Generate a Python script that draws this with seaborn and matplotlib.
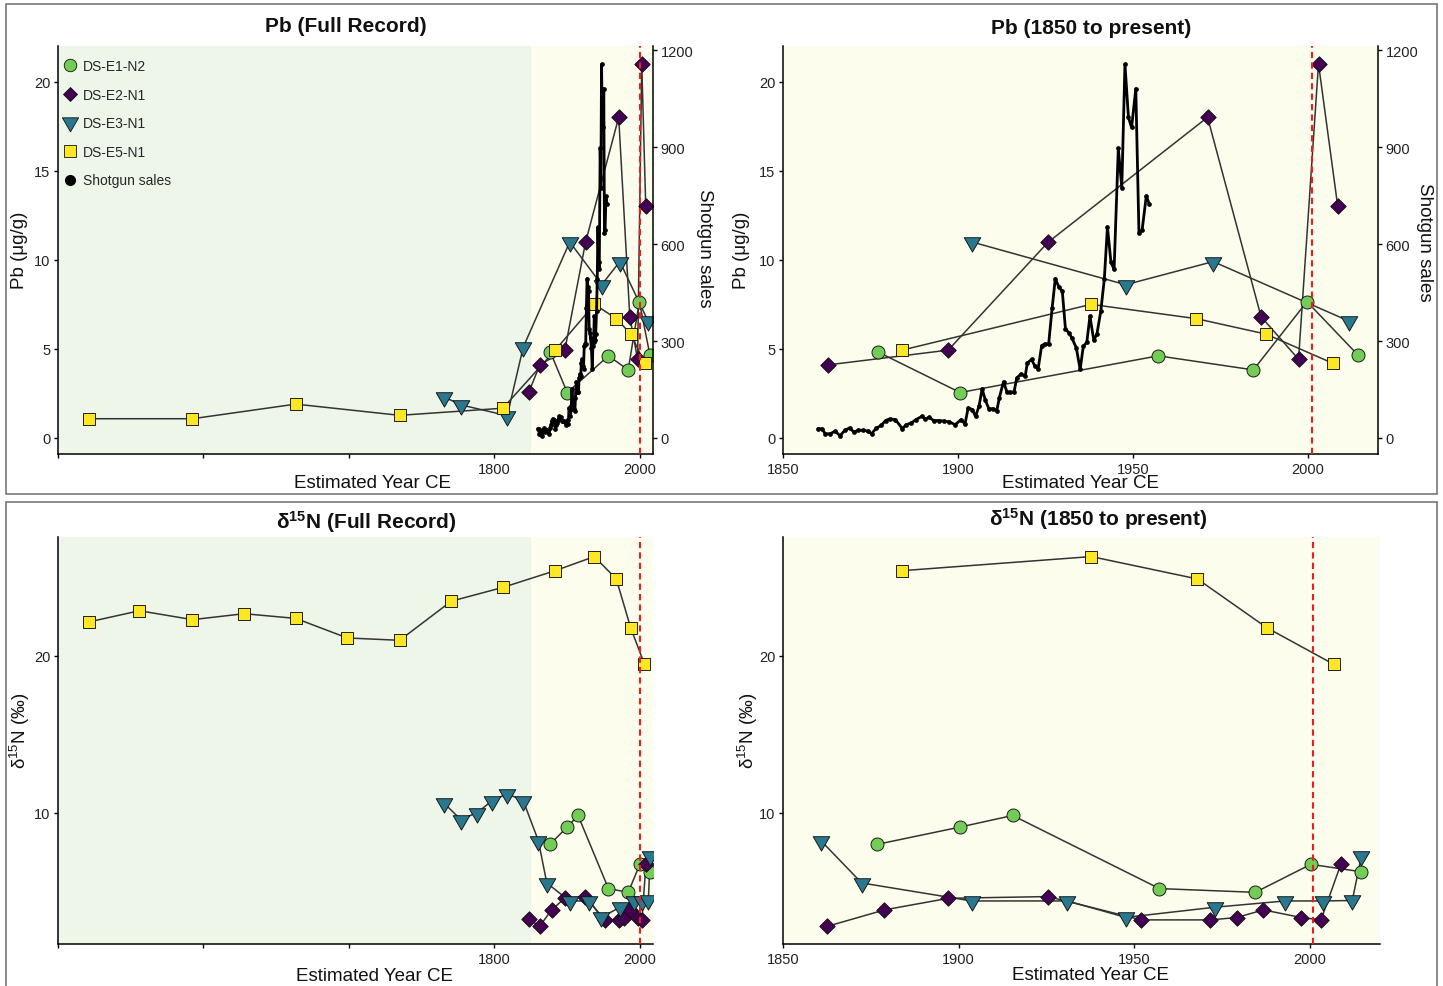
import matplotlib
matplotlib.use('Agg')
import matplotlib.pyplot as plt
from matplotlib.lines import Line2D
from matplotlib.patches import Rectangle
from matplotlib.path import Path
import seaborn as sns

sns.set_theme(style='white')
plt.rcParams['font.family'] = ['Liberation Sans', 'DejaVu Sans']
plt.rcParams['mathtext.fontset'] = 'custom'
plt.rcParams['mathtext.rm'] = 'Liberation Sans'
plt.rcParams['mathtext.it'] = 'Liberation Sans:italic'
plt.rcParams['mathtext.bf'] = 'Liberation Sans:bold'

# ---- data ----
sample_names = ['DS-E1-N2', 'DS-E2-N1', 'DS-E3-N1', 'DS-E5-N1']

# Pb (ug/g)
pb_e1_year = [1877.0, 1900.6, 1957.2, 1984.4, 1999.7, 2014.3]
pb_e1 = [4.84, 2.55, 4.61, 3.82, 7.65, 4.65]
pb_e2_year = [1848.0, 1862.8, 1897.2, 1925.7, 1971.3, 1986.6, 1997.3, 2003.0, 2008.5]
pb_e2 = [2.6, 4.1, 4.93, 10.98, 18.0, 6.8, 4.42, 21.0, 13.0]
pb_e3_year = [1731.0, 1755.0, 1818.0, 1840.0, 1904.0, 1947.9, 1972.9, 2011.8]
pb_e3 = [2.3, 1.85, 1.25, 5.1, 11.0, 8.6, 9.9, 6.55]
pb_e5_year = [1242.0, 1385.0, 1527.0, 1670.0, 1812.0, 1884.0, 1938.0, 1968.0, 1988.0, 2007.0]
pb_e5 = [1.08, 1.08, 1.9, 1.27, 1.67, 4.93, 7.5, 6.7, 5.83, 4.2]

# d15N (permil)
dn_e1_year = [1876.7, 1900.4, 1915.4, 1957.2, 1984.5, 2000.3, 2014.5]
dn_e1 = [7.96, 9.07, 9.81, 5.14, 4.9, 6.69, 6.22]
dn_e2_year = [1848.0, 1862.5, 1878.9, 1897.1, 1925.5, 1952.0, 1971.7, 1979.2,
              1986.8, 1997.6, 2003.2, 2008.9]
dn_e2 = [3.2, 2.72, 3.78, 4.52, 4.63, 3.14, 3.14, 3.29, 3.78, 3.29, 3.14, 6.73]
dn_e3_year = [1731.0, 1754.0, 1777.0, 1797.0, 1818.0, 1840.0, 1860.8, 1872.4,
              1903.7, 1931.0, 1947.6, 1973.0, 1993.0, 2003.9, 2012.1, 2014.7]
dn_e3 = [10.6, 9.55, 10.0, 10.75, 11.2, 10.75, 8.2, 5.5, 4.35, 4.35, 3.3, 3.95,
         4.35, 4.35, 4.38, 7.2]
dn_e5_year = [1242.0, 1312.0, 1385.0, 1456.0, 1527.0, 1598.0, 1670.0, 1741.0,
              1812.0, 1884.0, 1937.8, 1968.0, 1987.8, 2006.8]
dn_e5 = [22.17, 22.89, 22.32, 22.7, 22.4, 21.15, 21.0, 23.5, 24.38, 25.45,
         26.35, 24.92, 21.8, 19.47]

# shotgun sales
sales_year = [1860.0, 1861.1, 1862.1, 1863.5, 1864.9, 1866.3, 1867.7, 1869.0, 1870.3,
              1871.5, 1872.9, 1874.3, 1875.3, 1876.7, 1878.1, 1879.3, 1880.5, 1882.1,
              1884.1, 1885.2, 1886.6, 1888.0, 1889.7, 1890.7, 1891.8, 1893.0, 1894.6,
              1896.0, 1897.5, 1899.2, 1900.9, 1902.0, 1902.9, 1904.1, 1905.0, 1906.0,
              1906.9, 1907.8, 1908.8, 1910.0, 1911.1, 1911.8, 1913.0, 1914.0, 1914.9,
              1916.0, 1916.8, 1918.0, 1919.2, 1919.8, 1921.0, 1922.0, 1922.9, 1923.9,
              1924.8, 1925.9, 1926.9, 1927.8, 1928.8, 1929.8, 1930.7, 1931.7, 1932.6,
              1933.8, 1934.9, 1935.8, 1936.8, 1937.7, 1938.8, 1939.7, 1940.8, 1941.8,
              1942.7, 1943.7, 1944.6, 1945.8, 1946.8, 1947.7, 1948.7, 1949.6, 1950.8,
              1951.7, 1952.6, 1953.8, 1954.7]
sales = [29, 28, 13, 13, 21, 7, 24, 31, 18, 24, 24, 21, 13, 31, 39, 54, 59, 57, 29,
         41, 46, 57, 67, 59, 64, 54, 54, 52, 50, 41, 57, 43, 93, 88, 67, 98, 152, 117,
         91, 90, 85, 124, 174, 142, 142, 142, 186, 198, 191, 232, 243, 222, 214, 286,
         291, 291, 403, 493, 468, 454, 338, 325, 308, 279, 212, 284, 296, 377, 302,
         322, 393, 491, 653, 544, 522, 896, 775, 1157, 992, 961, 1081, 635, 643, 749,
         723]

pb_ticks = [0, 5, 10, 15, 20]
sales_ticks = [0, 300, 600, 900, 1200]
dn_ticks = [10, 20]
full_ticks = [1200, 1400, 1600, 1800, 2000]
full_tick_labels = ['', '', '', '1800', '2000']
recent_ticks = [1850, 1900, 1950, 2000]

# ---- styling ----
GREEN = '#72CC55'
PURPLE = '#440154'
TEAL = '#2A788E'
YELLOW = '#FDE725'
BG_OLD = '#EEF6EA'
BG_NEW = '#FDFDEE'
LINE_C = '#333333'
RED = '#EE1C1C'

TRI = Path([(-1, 0.577), (1, 0.577), (0, -1.155), (-1, 0.577)], [1, 2, 2, 79])
MARKERS = {'DS-E1-N2': ('o', 88, GREEN), 'DS-E2-N1': ('D', 62, PURPLE),
           'DS-E3-N1': (TRI, 190, TEAL), 'DS-E5-N1': ('s', 66, YELLOW)}

PB_LIM = (-0.9, 22.0)
SALES_PER_PB = 1200 / 21.76
DN_LIM = (1.6, 27.6)
FULL_LIM = (1200, 2018.5)
RECENT_LIM = (1850, 2020)
CUT_YEAR = 1850
RED_YEAR = 2001

W, H = 1443, 987
fig = plt.figure(figsize=(W / 100, H / 100), dpi=100)


def px_axes(x0, y0, x1, y1):
    return fig.add_axes([x0 / W, 1 - y1 / H, (x1 - x0) / W, (y1 - y0) / H])


def draw_samples(ax, series, xmin):
    for name, (yrs, vals) in zip(sample_names, series):
        pts = [(x, v) for x, v in zip(yrs, vals) if x >= xmin]
        xs = [p[0] for p in pts]
        vs = [p[1] for p in pts]
        marker, size, fill = MARKERS[name]
        sns.lineplot(x=xs, y=vs, color=LINE_C, lw=1.1, sort=False,
                     estimator=None, ax=ax, zorder=2, legend=False)
        sns.scatterplot(x=xs, y=vs, marker=marker, s=size, color=fill,
                        edgecolor='#111111', linewidth=0.65, ax=ax, zorder=3,
                        legend=False)


def style_axes(ax, xlim, ylim, yticks):
    ax.set_xlim(*xlim)
    ax.set_ylim(*ylim)
    ax.set_yticks(yticks)
    for s in ['top', 'right']:
        ax.spines[s].set_visible(False)
    for s in ['left', 'bottom']:
        ax.spines[s].set_color('black')
        ax.spines[s].set_linewidth(1.1)
    ax.tick_params(axis='both', bottom=True, left=True, length=3, width=1,
                   color='black', labelsize=10.5, pad=2.5, labelcolor='#222222')
    ax.set_xlabel('')
    ax.set_ylabel('')


def background(ax, xlim, split):
    if split:
        ax.axvspan(xlim[0], CUT_YEAR, color=BG_OLD, lw=0, zorder=0)
    ax.axvspan(CUT_YEAR, xlim[1], color=BG_NEW, lw=0, zorder=0)


def sales_axis(ax, ylim):
    ax2 = ax.twinx()
    sns.lineplot(x=sales_year, y=sales, color='black', lw=2.0, sort=False,
                 estimator=None, marker='o', markersize=3.4, markeredgewidth=0,
                 ax=ax2, legend=False, zorder=4)
    ax2.set_ylim(ylim[0] * SALES_PER_PB, ylim[1] * SALES_PER_PB)
    ax2.set_yticks(sales_ticks)
    for s in ['top', 'left', 'bottom']:
        ax2.spines[s].set_visible(False)
    ax2.spines['right'].set_color('black')
    ax2.spines['right'].set_linewidth(1.1)
    ax2.tick_params(axis='y', right=True, length=3, width=1, color='black',
                    labelsize=10.5, pad=2.5, labelcolor='#222222')
    ax2.set_ylabel('')
    return ax2


pb_series = [(pb_e1_year, pb_e1), (pb_e2_year, pb_e2), (pb_e3_year, pb_e3), (pb_e5_year, pb_e5)]
dn_series = [(dn_e1_year, dn_e1), (dn_e2_year, dn_e2), (dn_e3_year, dn_e3), (dn_e5_year, dn_e5)]

# ---- Pb full record ----
ax = px_axes(58, 47, 653, 455)
background(ax, FULL_LIM, True)
draw_samples(ax, pb_series, 0)
style_axes(ax, FULL_LIM, PB_LIM, pb_ticks)
ax.set_xticks(full_ticks)
ax.set_xticklabels(full_tick_labels)
ax2 = sales_axis(ax, PB_LIM)
ax2.axvline(RED_YEAR, color=RED, ls=(0, (3, 2)), lw=1.5, zorder=6)

handles = [Line2D([], [], ls='none', marker='o', ms=9.0, mfc=GREEN, mec='#111', mew=0.6),
           Line2D([], [], ls='none', marker='D', ms=7.5, mfc=PURPLE, mec='#111', mew=0.6),
           Line2D([], [], ls='none', marker=TRI, ms=13.5, mfc=TEAL, mec='#111', mew=0.6),
           Line2D([], [], ls='none', marker='s', ms=8.0, mfc=YELLOW, mec='#111', mew=0.6),
           Line2D([], [], ls='none', marker='o', ms=8.0, mfc='black', mec='black', mew=0)]
ax2.legend(handles, sample_names + ['Shotgun sales'], loc='upper left',
           bbox_to_anchor=(0.008, 0.968), frameon=False, fontsize=10,
           handlelength=1.0, handletextpad=0.45, labelspacing=1.05,
           borderaxespad=0, borderpad=0)

# ---- Pb 1850 to present ----
ax = px_axes(783, 47, 1378, 455)
background(ax, RECENT_LIM, False)
draw_samples(ax, pb_series, CUT_YEAR)
style_axes(ax, RECENT_LIM, PB_LIM, pb_ticks)
ax.set_xticks(recent_ticks)
ax2 = sales_axis(ax, PB_LIM)
ax2.axvline(RED_YEAR, color=RED, ls=(0, (3, 2)), lw=1.5, zorder=6)

# ---- d15N full record ----
ax = px_axes(58, 538, 653, 945)
background(ax, FULL_LIM, True)
draw_samples(ax, dn_series, 0)
style_axes(ax, FULL_LIM, DN_LIM, dn_ticks)
ax.set_xticks(full_ticks)
ax.set_xticklabels(full_tick_labels)
ax.axvline(RED_YEAR, color=RED, ls=(0, (3, 2)), lw=1.5, zorder=6)

# ---- d15N 1850 to present ----
ax = px_axes(783, 538, 1380, 945)
background(ax, RECENT_LIM, False)
draw_samples(ax, dn_series, CUT_YEAR)
style_axes(ax, RECENT_LIM, DN_LIM, dn_ticks)
ax.set_xticks(recent_ticks)
ax.axvline(RED_YEAR, color=RED, ls=(0, (3, 2)), lw=1.5, zorder=6)


# ---- titles and axis labels ----
def ftext(x, y, s, **kw):
    fig.text(x / W, 1 - y / H, s, ha='center', va='center', color='#111111', **kw)


ftext(346, 27, 'Pb (Full Record)', fontsize=15, fontweight='bold')
ftext(1091, 28, 'Pb (1850 to present)', fontsize=15, fontweight='bold')
ftext(366, 522, r'δ$^{\mathbf{15}}$N (Full Record)', fontsize=15, fontweight='bold')
ftext(1098, 519, r'δ$^{\mathbf{15}}$N (1850 to present)', fontsize=15, fontweight='bold')

for x, y in [(373, 484), (1080, 484), (375, 977), (1091, 976)]:
    ftext(x, y, 'Estimated Year CE', fontsize=13.5)
for x in [20, 742]:
    ftext(x, 250, 'Pb (μg/g)', fontsize=13.5, rotation=90)
for x in [20, 748]:
    ftext(x, 731, r'δ$^{15}$N (‰)', fontsize=13.5, rotation=90)
for x, y in [(704, 248), (1424, 242)]:
    ftext(x, y, 'Shotgun sales', fontsize=13.5, rotation=270)

# panel frames
fig.add_artist(Rectangle((6 / W, 1 - 495 / H), 1431 / W, 490 / H, transform=fig.transFigure,
                         fill=False, ec='#777777', lw=1.2))
fig.add_artist(Rectangle((6 / W, 1 - 1000 / H), 1431 / W, 497 / H, transform=fig.transFigure,
                         fill=False, ec='#777777', lw=1.2))

fig.savefig('out.png', dpi=100)
